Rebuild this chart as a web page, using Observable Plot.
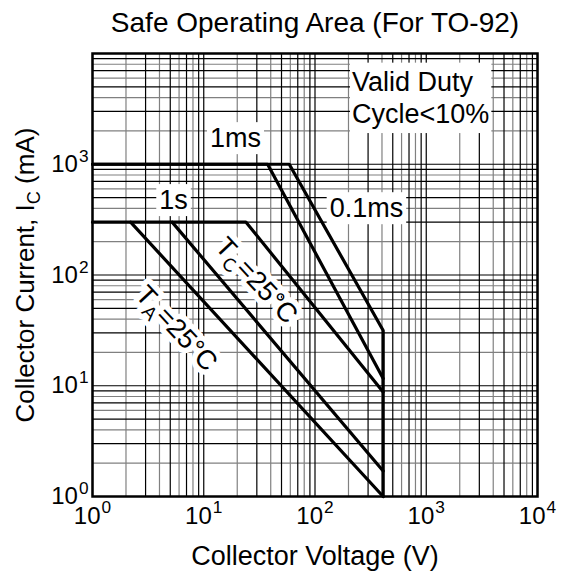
<!DOCTYPE html>
<html><head><meta charset="utf-8">
<script src="https://cdn.jsdelivr.net/npm/d3@7"></script>
<script src="https://cdn.jsdelivr.net/npm/@observablehq/plot@0.6"></script>
<style>
html,body{margin:0;padding:0;background:#fff;}
#chart svg{display:block;}
</style>
</head><body><div id="chart"></div>
<script>
// ---- text ----
const title = "Safe Operating Area (For TO-92)";
const xLabel = "Collector Voltage (V)";
const yLabel = "Collector Current, I_C (mA)";
const xTicks = [1, 10, 100, 1000, 10000];
const yTicks = [1, 10, 100, 1000];
const xTickLabels = ["10^0", "10^1", "10^2", "10^3", "10^4"];
const yTickLabels = ["10^0", "10^1", "10^2", "10^3"];

// ---- curves: voltage (V) and current (mA) ----
const curve01msV = [1, 58.7, 410, 410];
const curve01msI = [1000, 1000, 31.5, 1];
const curve1msV = [1, 37.5, 410];
const curve1msI = [1000, 1000, 11.6];
const curveTcV = [1, 24, 410];
const curveTcI = [300, 300, 8.8];
const curveTa1V = [2.2, 410];
const curveTa1I = [300, 1];
const curveTa2V = [5.2, 410];
const curveTa2I = [300, 1.7];

// ---- annotations ----
const boxLabels = ["1ms", "1s", "0.1ms"];
const boxLabelV = [19.3, 5.35, 290];
const boxLabelI = [1708, 471, 398];
const noteText = ["Valid Duty\nCycle<10%"];
const noteV = [215];
const noteI = [4091];
const tempLabels = ["T_C=25°C", "T_A=25°C"];
const tempV = [29.8, 5.69];
const tempI = [89, 32.9];
const tempAngle = 47;

// ---- build tables ----
const rows = [];
function addCurve(name, V, I) { V.forEach((v, i) => rows.push({curve: name, V: v, I: I[i]})); }
addCurve("0.1ms", curve01msV, curve01msI);
addCurve("1ms", curve1msV, curve1msI);
addCurve("Tc", curveTcV, curveTcI);
addCurve("Ta1", curveTa1V, curveTa1I);
addCurve("Ta2", curveTa2V, curveTa2I);

const minor = [];
for (let e = 0; e < 4; e++) for (let k = 2; k <= 9; k++) minor.push({v: k * 10 ** e, k});
const minorDark = minor.filter(d => d.k % 2 === 1);
const minorGray = minor.filter(d => d.k % 2 === 0);

const xFmt = d => xTickLabels[xTicks.indexOf(d)];
const yFmt = d => yTickLabels[yTicks.indexOf(d)];
const font = "'Liberation Sans', Arial, Helvetica, sans-serif";
const tickFont = 24;

const chart = Plot.plot({
  width: 561, height: 572,
  marginLeft: 92, marginRight: 24, marginTop: 53, marginBottom: 76,
  x: {type: "log", domain: [1, 1e4]},
  y: {type: "log", domain: [1, 1e4]},
  style: {fontFamily: font, fontSize: "24px", color: "#000", background: "#fff", overflow: "visible"},
  marks: [
    Plot.ruleX(minorGray, {x: "v", stroke: "#808080", strokeWidth: 1.2}),
    Plot.ruleY(minorGray, {y: "v", stroke: "#808080", strokeWidth: 1.2}),
    Plot.ruleX(minorDark, {x: "v", stroke: "#000", strokeWidth: 1.2}),
    Plot.ruleY(minorDark, {y: "v", stroke: "#000", strokeWidth: 1.2}),
    Plot.ruleX(xTicks, {stroke: "#000", strokeWidth: 1.2}),
    Plot.ruleY(xTicks, {stroke: "#000", strokeWidth: 1.2}),
    Plot.text(boxLabels, {x: (d, i) => boxLabelV[i], y: (d, i) => boxLabelI[i], text: d => d, fontSize: 27, fill: "#000"}),
    Plot.text(noteText, {x: (d, i) => noteV[i], y: (d, i) => noteI[i], text: d => d, textAnchor: "start", lineHeight: 1.2, fontSize: 27, fill: "#000"}),
    Plot.text(tempLabels, {x: (d, i) => tempV[i], y: (d, i) => tempI[i], text: d => d, rotate: tempAngle, fontSize: 27, fill: "#000", stroke: "#fff", strokeWidth: 11, strokeLinejoin: "round"}),
    Plot.line(rows, {x: "V", y: "I", z: "curve", stroke: "#000", strokeWidth: 3.2, strokeLinejoin: "miter", curve: "linear"}),
    Plot.frame({stroke: "#000", strokeWidth: 2.5}),
    Plot.axisX(xTicks, {tickSize: 0, tickPadding: 10, tickFormat: xFmt, fontSize: tickFont, label: null}),
    Plot.axisY(yTicks, {tickSize: 0, tickPadding: 4, tickFormat: yFmt, fontSize: tickFont, label: null}),
    Plot.text([title], {frameAnchor: "top", dy: -41, fontSize: 28, fill: "#000"}),
    Plot.text([xLabel], {frameAnchor: "bottom", dy: 68, fontSize: 27, fill: "#000"}),
    Plot.text([yLabel], {frameAnchor: "left", dx: -67, rotate: -90, textAnchor: "middle", fontSize: 26, fill: "#000"})
  ]
});
document.getElementById("chart").append(chart);

// ---- post-process: superscripts, subscripts, label boxes ----
const NS = "http://www.w3.org/2000/svg";
function ts(txt, attrs) {
  const t = document.createElementNS(NS, "tspan");
  t.textContent = txt;
  for (const k in attrs) t.setAttribute(k, attrs[k]);
  return t;
}
chart.querySelectorAll("text").forEach(el => {
  if (el.querySelector("tspan")) return;
  const s = el.textContent;
  if (s.includes("^")) {
    const fs = tickFont;
    el.style.fontSize = fs + "px";
    const [b, e] = s.split("^");
    el.textContent = "";
    el.append(ts(b, {}), ts(e, {dx: 1, dy: -0.42 * fs, "font-size": 0.72 * fs}));
  } else if (s.includes("_")) {
    const fs = parseFloat(getComputedStyle(el).fontSize);
    const i = s.indexOf("_");
    el.textContent = "";
    el.append(ts(s.slice(0, i), {}),
      ts(s[i + 1], {dy: 0.24 * fs, "font-size": 0.7 * fs}),
      ts(s.slice(i + 2), {dy: -0.24 * fs}));
  }
});
chart.querySelectorAll("text").forEach(el => {
  const s = el.textContent;
  const isNote = s.startsWith("Valid");
  if (boxLabels.includes(s) || isNote) {
    const b = el.getBBox();
    const px = isNote ? 2 : 3, py = isNote ? 4 : 1;
    const r = document.createElementNS(NS, "rect");
    r.setAttribute("x", b.x - px); r.setAttribute("y", b.y - py);
    r.setAttribute("width", b.width + 2 * px); r.setAttribute("height", b.height + 2 * py);
    r.setAttribute("fill", "#fff");
    if (el.getAttribute("transform")) r.setAttribute("transform", el.getAttribute("transform"));
    el.parentNode.insertBefore(r, el);
  }
});
</script>
</body></html>
